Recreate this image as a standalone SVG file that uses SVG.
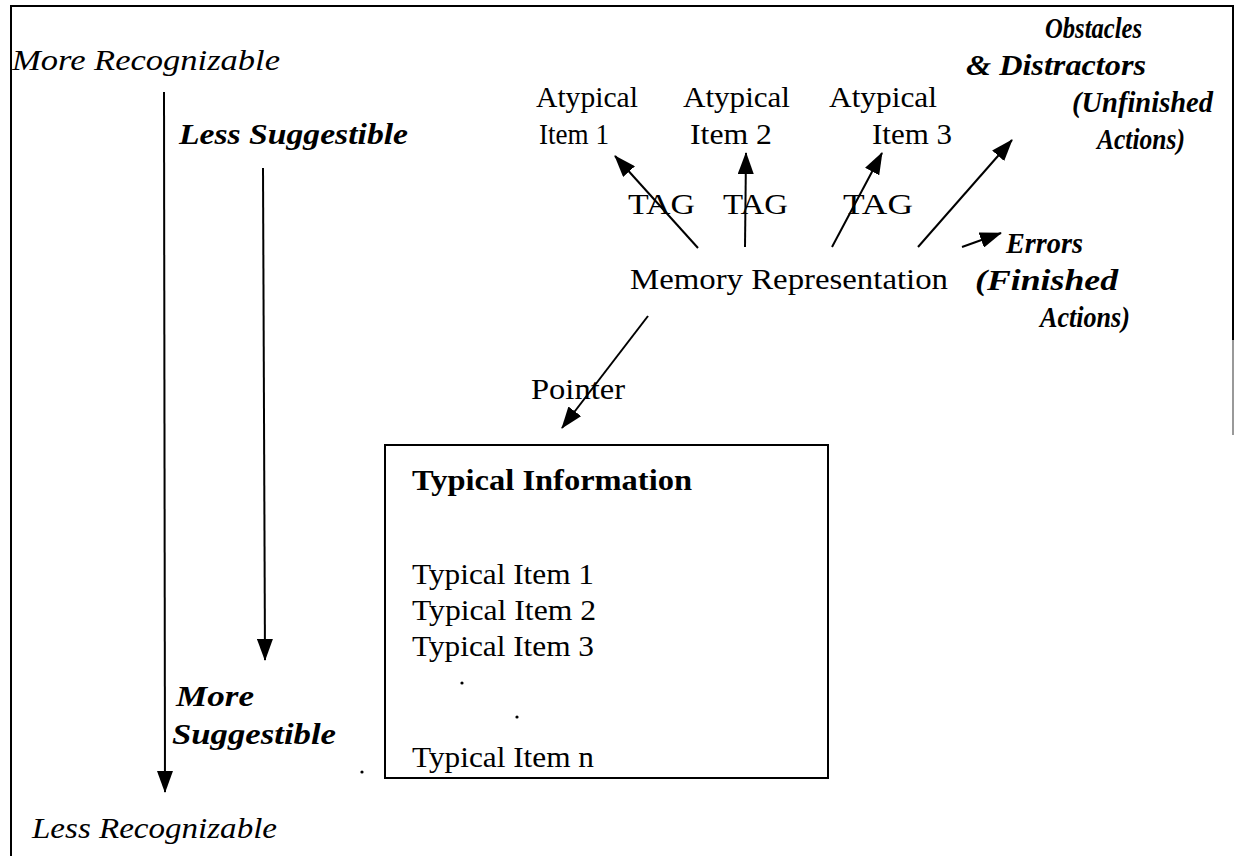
<svg xmlns="http://www.w3.org/2000/svg" width="1235" height="856" viewBox="0 0 1235 856">
<defs>
<style>
.t{font-family:"Liberation Serif","Times New Roman",serif;font-size:30px;fill:#000}
.i{font-style:italic}
.b{font-weight:bold}
.ln{stroke:#000;stroke-width:2;fill:none}
</style>
<marker id="ah" markerUnits="userSpaceOnUse" markerWidth="22" markerHeight="16" refX="21" refY="8" orient="auto" viewBox="0 0 22 16">
<path d="M0,0 L22,8 L0,16 z" fill="#000"/>
</marker>
</defs>
<rect width="1235" height="856" fill="#fff"/>
<g id="frame">
<path class="ln" d="M11,856 L11,6 L1233,6 L1233,340"/>
<path d="M1233,340 L1233,435" stroke="#999" stroke-width="2"/>
</g>
<g id="scale-recognizable">
<text class="t i" x="12" y="70" textLength="268" lengthAdjust="spacingAndGlyphs">More Recognizable</text>
<text class="t i" x="32" y="838" textLength="245" lengthAdjust="spacingAndGlyphs">Less Recognizable</text>
</g>
<g id="scale-suggestible">
<text class="t i b" x="179" y="144" textLength="229" lengthAdjust="spacingAndGlyphs">Less Suggestible</text>
<text class="t i b" x="176" y="706" textLength="78" lengthAdjust="spacingAndGlyphs">More</text>
<text class="t i b" x="172" y="744" textLength="164" lengthAdjust="spacingAndGlyphs">Suggestible</text>
</g>
<g id="atypical1">
<text class="t" x="536" y="107" textLength="102" lengthAdjust="spacingAndGlyphs">Atypical</text>
<text class="t" x="539" y="144" textLength="70" lengthAdjust="spacingAndGlyphs">Item 1</text>
</g>
<g id="atypical2">
<text class="t" x="683" y="107" textLength="107" lengthAdjust="spacingAndGlyphs">Atypical</text>
<text class="t" x="690" y="144" textLength="82" lengthAdjust="spacingAndGlyphs">Item 2</text>
</g>
<g id="atypical3">
<text class="t" x="829" y="107" textLength="108" lengthAdjust="spacingAndGlyphs">Atypical</text>
<text class="t" x="872" y="144" textLength="80" lengthAdjust="spacingAndGlyphs">Item 3</text>
</g>
<g id="obstacles">
<text class="t i b" x="1045" y="38" textLength="97" lengthAdjust="spacingAndGlyphs">Obstacles</text>
<text class="t i b" x="966" y="75" textLength="180" lengthAdjust="spacingAndGlyphs">&amp; Distractors</text>
<text class="t i b" x="1072" y="112" textLength="141" lengthAdjust="spacingAndGlyphs">(Unfinished</text>
<text class="t i b" x="1097" y="149" textLength="88" lengthAdjust="spacingAndGlyphs">Actions)</text>
</g>
<g id="errors">
<text class="t i b" x="1006" y="253" textLength="77" lengthAdjust="spacingAndGlyphs">Errors</text>
<text class="t i b" x="975" y="290" textLength="143" lengthAdjust="spacingAndGlyphs">(Finished</text>
<text class="t i b" x="1040" y="327" textLength="90" lengthAdjust="spacingAndGlyphs">Actions)</text>
</g>
<g id="memory">
<text class="t" x="630" y="289" textLength="318" lengthAdjust="spacingAndGlyphs">Memory Representation</text>
</g>
<g id="typical">
<rect x="385" y="445" width="443" height="333" fill="none" stroke="#000" stroke-width="2"/>
<text class="t b" x="412" y="490" textLength="280" lengthAdjust="spacingAndGlyphs">Typical Information</text>
<text class="t" x="412" y="584" textLength="182" lengthAdjust="spacingAndGlyphs">Typical Item 1</text>
<text class="t" x="412" y="620" textLength="184" lengthAdjust="spacingAndGlyphs">Typical Item 2</text>
<text class="t" x="412" y="656" textLength="182" lengthAdjust="spacingAndGlyphs">Typical Item 3</text>
<circle cx="462" cy="683" r="1.6" fill="#000"/>
<circle cx="517" cy="717" r="1.6" fill="#000"/>
<text class="t" x="412" y="767" textLength="182" lengthAdjust="spacingAndGlyphs">Typical Item n</text>
</g>
<circle cx="362" cy="772" r="1.6" fill="#000"/>
<g id="connectors">
<line class="ln" x1="164" y1="92" x2="165" y2="792" marker-end="url(#ah)"/>
<line class="ln" x1="263" y1="168" x2="265" y2="660" marker-end="url(#ah)"/>
<line class="ln" x1="698" y1="248" x2="615" y2="156" marker-end="url(#ah)"/>
<line class="ln" x1="745" y1="247" x2="746" y2="153" marker-end="url(#ah)"/>
<line class="ln" x1="832" y1="247" x2="882" y2="153" marker-end="url(#ah)"/>
<line class="ln" x1="918" y1="247" x2="1012" y2="140" marker-end="url(#ah)"/>
<line class="ln" x1="962" y1="247" x2="1001" y2="233" marker-end="url(#ah)"/>
<line class="ln" x1="648" y1="316" x2="562" y2="428" marker-end="url(#ah)"/>
</g>
<g id="labels">
<text class="t" x="628" y="214" textLength="67" lengthAdjust="spacingAndGlyphs">TAG</text>
<text class="t" x="723" y="214" textLength="65" lengthAdjust="spacingAndGlyphs">TAG</text>
<text class="t" x="843" y="214" textLength="70" lengthAdjust="spacingAndGlyphs">TAG</text>
<text class="t" x="531" y="399" textLength="94" lengthAdjust="spacingAndGlyphs">Pointer</text>
</g>
</svg>
